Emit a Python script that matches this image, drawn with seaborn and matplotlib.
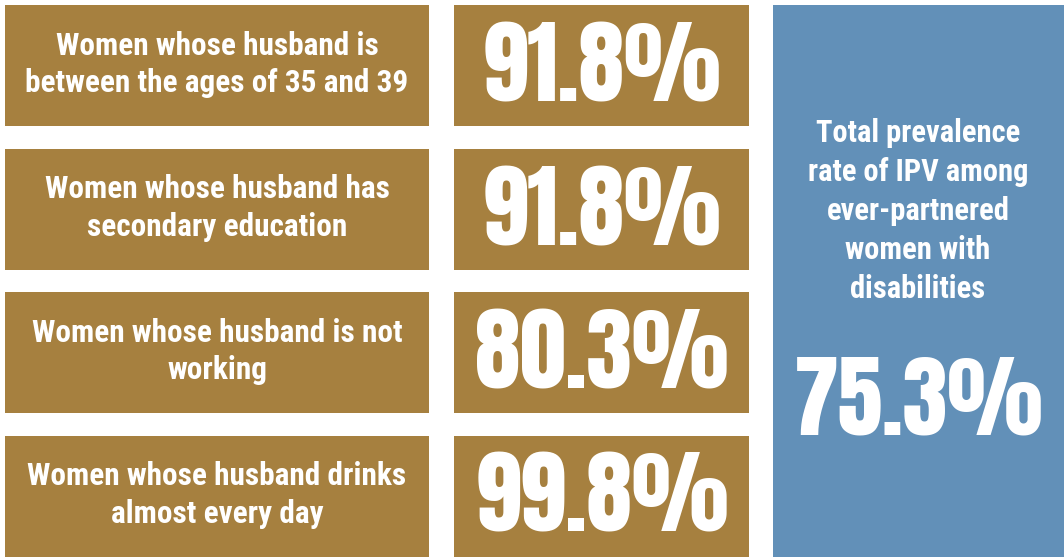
import matplotlib
matplotlib.use("Agg")
import matplotlib.pyplot as plt
from matplotlib import font_manager
import seaborn as sns

# data
labels = [
    "Women whose husband is\nbetween the ages of 35 and 39",
    "Women whose husband has\nsecondary education",
    "Women whose husband is not\nworking",
    "Women whose husband drinks\nalmost every day",
]
values = [91.8, 91.8, 80.3, 99.8]
total_label = "Total prevalence\nrate of IPV among\never-partnered\nwomen with\ndisabilities"
total_value = 75.3

gold = "#a6803f"
blue = "#6290b8"

sns.set_theme(style="white")
names = {f.name for f in font_manager.fontManager.ttflist}


def pick(cands):
    for c in cands:
        if c in names:
            return c
    return "DejaVu Sans"


label_font = pick(["Roboto Condensed", "PT Sans Narrow", "Fira Sans Condensed",
                   "Archivo Narrow", "Asap Condensed"])
num_font = pick(["Anton", "Oswald", "Bebas Neue", "Archivo Narrow"])
plt.rcParams["font.family"] = [label_font, "DejaVu Sans"]

fig = plt.figure(figsize=(10.64, 5.57), dpi=100)
ax = fig.add_axes([0, 0, 1, 1])
ax.set_xlim(0, 1064)
ax.set_ylim(557, 0)
ax.axis("off")

row_top = [5, 148.5, 292, 435.5]
row_h = 121
centers = [t + row_h / 2 for t in row_top]

ax.barh(centers, 424, left=5, height=row_h, color=gold, linewidth=0)
ax.barh(centers, 295, left=454, height=row_h, color=gold, linewidth=0)
ax.barh([281], 291, left=773, height=552, color=blue, linewidth=0)

for c, lab, v in zip(centers, labels, values):
    ax.text(217, c - 1, lab, ha="center", va="center", color="white",
            fontsize=22.5, fontweight="bold", linespacing=1.32)
    ax.text(602, c + 2, f"{v:.1f}%", ha="center", va="center", color="white",
            fontsize=66, family=[num_font, "DejaVu Sans"])

ax.text(918, 211, total_label, ha="center", va="center", color="white",
        fontsize=22, fontweight="bold", linespacing=1.38)
ax.text(919, 401, f"{total_value:.1f}%", ha="center", va="center", color="white",
        fontsize=65, family=[num_font, "DejaVu Sans"])

fig.savefig("out.png", dpi=100, facecolor="white")
